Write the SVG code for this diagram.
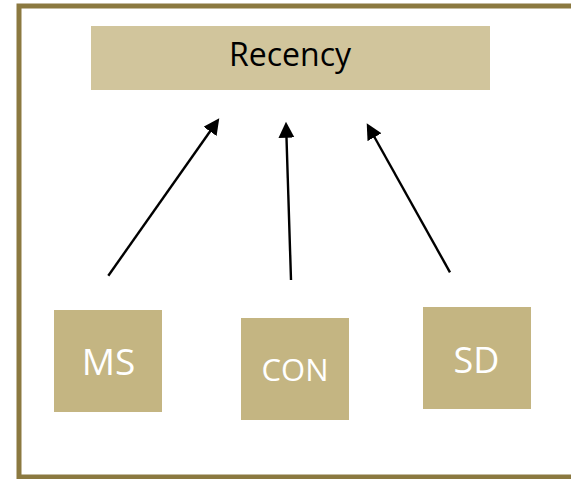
<svg xmlns="http://www.w3.org/2000/svg" width="571" height="479" viewBox="0 0 571 479">
  <style>
    .frame { fill: none; stroke: #8B7940; stroke-width: 5; }
    .top { fill: #D1C59C; }
    .leaf { fill: #C4B582; }
    .lbl { font-family: "Open Sans", "Liberation Sans", sans-serif; text-anchor: middle; }
    .dark { fill: #000000; }
    .light { fill: #FFFFFF; }
    .edge { stroke: #000000; stroke-width: 2.4; fill: none; marker-end: url(#head); }
  </style>
  <defs>
    <marker id="head" markerUnits="userSpaceOnUse" markerWidth="18" markerHeight="17" refX="6" refY="8" orient="auto">
      <path d="M0,0 L16,8 L0,16 Z" fill="#000000"/>
    </marker>
  </defs>
  <rect width="571" height="479" fill="#FFFFFF"/>
  <rect class="frame" x="19" y="6" width="600" height="471"/>

  <g id="recency">
    <rect class="top" x="91" y="26" width="399" height="64"/>
    <text class="lbl dark" x="290" y="66" font-size="32">Recency</text>
  </g>

  <g id="ms">
    <rect class="leaf" x="54" y="310" width="108" height="102"/>
    <text class="lbl light" x="108.5" y="375" font-size="37">MS</text>
  </g>

  <g id="con">
    <rect class="leaf" x="241" y="318" width="108" height="102"/>
    <text class="lbl light" x="295" y="381" font-size="31">CON</text>
  </g>

  <g id="sd">
    <rect class="leaf" x="423" y="307" width="108" height="102"/>
    <text class="lbl light" x="476.5" y="373" font-size="36">SD</text>
  </g>

  <g id="connectors">
    <line class="edge" x1="108.3" y1="275.7" x2="213.5" y2="126.5"/>
    <line class="edge" x1="291" y1="280" x2="286.3" y2="131.7"/>
    <line class="edge" x1="450" y1="272.3" x2="371.6" y2="132"/>
  </g>
</svg>
